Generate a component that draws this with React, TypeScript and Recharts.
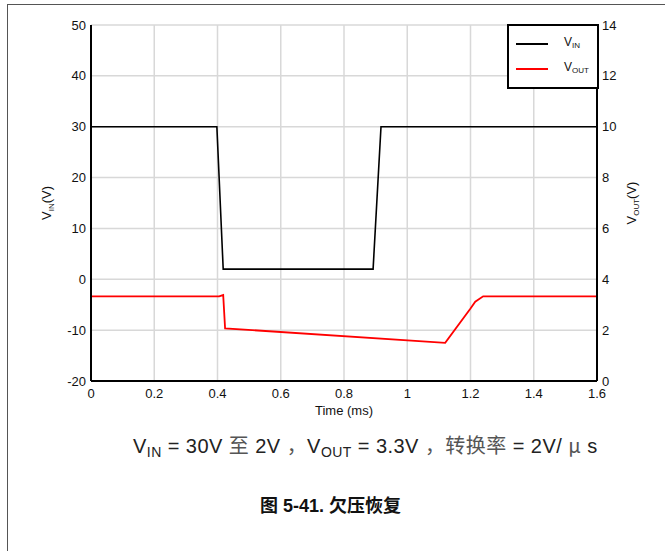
import React from 'react';
import { LineChart, Line, XAxis, YAxis, CartesianGrid } from 'recharts';

const timeTicks = [0, 0.2, 0.4, 0.6, 0.8, 1, 1.2, 1.4, 1.6];
const vinTicks = [-20, -10, 0, 10, 20, 30, 40, 50];
const voutTicks = [0, 2, 4, 6, 8, 10, 12, 14];

const vinTime = [0, 0.398, 0.418, 0.892, 0.917, 1.6];
const vinValues = [30, 30, 2, 2, 30, 30];

const voutTime = [0, 0.405, 0.418, 0.424, 1.12, 1.2, 1.215, 1.24, 1.6];
const voutValues = [3.33, 3.33, 3.38, 2.07, 1.5, 2.85, 3.12, 3.33, 3.33];

const vinData = vinTime.map((t, i) => ({ t, vin: vinValues[i] }));
const voutData = voutTime.map((t, i) => ({ t, vout: voutValues[i] }));

const FONT = "'Liberation Sans', Arial, 'Noto Sans CJK SC', sans-serif";
const CJK = "'Noto Sans CJK SC', sans-serif";

const LeftLabel = (props: any) => {
  const vb = props.viewBox || {};
  const x = vb.x + vb.width - 40;
  const y = vb.y + vb.height / 2;
  return (
    <text transform={`translate(${x},${y}) rotate(-90)`} textAnchor="middle" fontSize={13} fill="#111" fontFamily={FONT}>
      V<tspan fontSize={8} dy={3}>IN</tspan><tspan dy={-3}>(V)</tspan>
    </text>
  );
};

const RightLabel = (props: any) => {
  const vb = props.viewBox || {};
  const x = vb.x + 39;
  const y = vb.y + vb.height / 2;
  return (
    <text transform={`translate(${x},${y}) rotate(-90)`} textAnchor="middle" fontSize={13} fill="#111" fontFamily={FONT}>
      V<tspan fontSize={8} dy={3}>OUT</tspan><tspan dy={-3}>(V)</tspan>
    </text>
  );
};

const XLabel = (props: any) => {
  const vb = props.viewBox || {};
  return (
    <text x={vb.x + vb.width / 2} y={vb.y + 34} textAnchor="middle" fontSize={13} fill="#111" fontFamily={FONT}>
      Time (ms)
    </text>
  );
};

export default function App() {
  const sub = { fontSize: 14, position: 'relative' as const, top: 4 };
  const cjk = { fontFamily: CJK, color: '#555' };
  return (
    <div style={{ position: 'fixed', left: 0, top: 0, width: 665, height: 551, background: '#fff', fontFamily: FONT }}>
      <div style={{ position: 'absolute', left: 7, top: 4, right: 0, bottom: 0, borderLeft: '1px solid #555', borderTop: '1px solid #555' }} />
      <div style={{ position: 'absolute', left: 0, top: 0 }}>
        <LineChart width={665} height={430} margin={{ top: 25, right: 18, left: 41, bottom: 9 }}>
          <CartesianGrid stroke="#d8d8d8" strokeWidth={1.5} horizontal={true} vertical={true} yAxisId="left" />
          <XAxis
            dataKey="t"
            type="number"
            domain={[0, 1.6]}
            ticks={timeTicks}
            allowDataOverflow
            tickLine={false}
            tickSize={6}
            tickMargin={2}
            height={40}
            axisLine={{ stroke: '#000', strokeWidth: 2 }}
            tick={{ fontSize: 13, fill: '#111', fontFamily: FONT }}
            label={<XLabel />}
          />
          <YAxis
            yAxisId="left"
            orientation="left"
            domain={[-20, 50]}
            ticks={vinTicks}
            allowDataOverflow
            width={50}
            tickLine={false}
            tickSize={3}
            tickMargin={2}
            axisLine={{ stroke: '#000', strokeWidth: 2 }}
            tick={{ fontSize: 13, fill: '#111', fontFamily: FONT }}
            label={<LeftLabel />}
          />
          <YAxis
            yAxisId="right"
            orientation="right"
            domain={[0, 14]}
            ticks={voutTicks}
            allowDataOverflow
            width={50}
            tickLine={false}
            tickSize={3}
            tickMargin={2}
            axisLine={{ stroke: '#000', strokeWidth: 2 }}
            tick={{ fontSize: 13, fill: '#111', fontFamily: FONT }}
            label={<RightLabel />}
          />
          <Line
            yAxisId="left"
            data={vinData}
            dataKey="vin"
            type="linear"
            stroke="#000"
            strokeWidth={1.6}
            dot={false}
            activeDot={false}
            isAnimationActive={false}
          />
          <Line
            yAxisId="right"
            data={voutData}
            dataKey="vout"
            type="linear"
            stroke="#ff0000"
            strokeWidth={1.8}
            dot={false}
            activeDot={false}
            isAnimationActive={false}
          />
        </LineChart>
      </div>
      <div style={{ position: 'absolute', left: 507, top: 24, width: 88, height: 61, border: '2px solid #000', background: '#fff' }}>
        <div style={{ position: 'absolute', left: 7, top: 17, width: 32, height: 1.5, background: '#000' }} />
        <div style={{ position: 'absolute', left: 55, top: 9, fontSize: 12, color: '#111', lineHeight: '14px', whiteSpace: 'nowrap' }}>
          V<span style={{ fontSize: 8, position: 'relative', top: 2 }}>IN</span>
        </div>
        <div style={{ position: 'absolute', left: 7, top: 42, width: 32, height: 1.5, background: '#ff0000' }} />
        <div style={{ position: 'absolute', left: 55, top: 34, fontSize: 12, color: '#111', lineHeight: '14px', whiteSpace: 'nowrap' }}>
          V<span style={{ fontSize: 8, position: 'relative', top: 2 }}>OUT</span>
        </div>
      </div>
      <div style={{ position: 'absolute', left: 133, top: 434, fontSize: 20, lineHeight: '22px', color: '#222', whiteSpace: 'pre', letterSpacing: '0.45px' }}>
        V<span style={sub}>IN</span>{' = 30V '}<span style={cjk}>至</span>{' 2V '}<span style={cjk}>，</span>V<span style={sub}>OUT</span>{' = 3.3V '}<span style={cjk}>，转换率</span>{' = 2V/ '}<span style={cjk}>μ</span>{' s'}
      </div>
      <div style={{ position: 'absolute', left: 260, top: 496, fontSize: 18, lineHeight: '20px', fontWeight: 'bold', color: '#111', whiteSpace: 'nowrap' }}>
        图 5-41. 欠压恢复
      </div>
    </div>
  );
}
